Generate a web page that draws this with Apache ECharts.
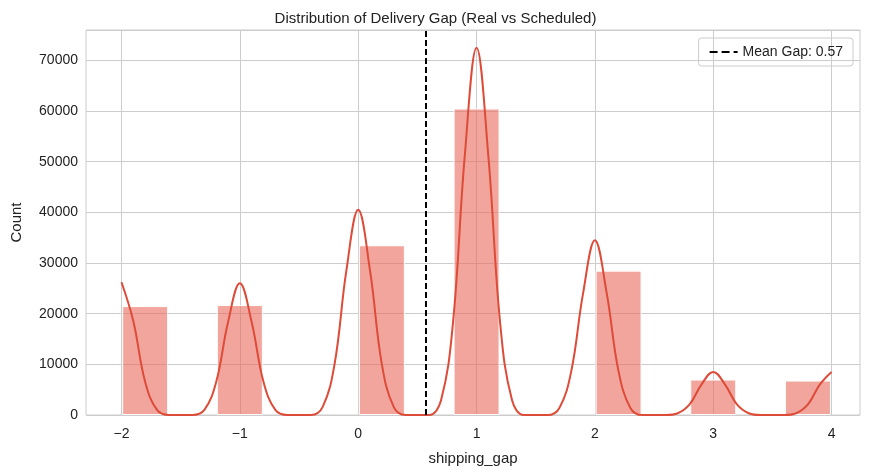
<!DOCTYPE html>
<html>
<head>
  <meta charset="utf-8">
  <script src="https://cdn.jsdelivr.net/npm/echarts@6/dist/echarts.min.js"></script>
  <style>
    html, body { margin: 0; padding: 0; background: #fff; }
    #chart { width: 871px; height: 473px; }
  </style>
</head>
<body>
  <div id="chart"></div>
  <script>
    // histogram bins (center, count), bin width 0.4
    const binCenters = [-1.8, -1.0, 0.2, 1.0, 2.2, 3.0, 3.8];
    const binCounts = [21500, 21700, 33500, 60500, 28500, 7000, 6800];
    // KDE curve
    const kdeX = [-2, -1.9, -1.8, -1.7, -1.6, -1.5, -1.4, -1.3, -1.2, -1.1, -1.0, -0.9, -0.8, -0.7, -0.6, -0.5, -0.4, -0.3, -0.2, -0.1,
      0, 0.1, 0.2, 0.3, 0.4, 0.5, 0.6, 0.7, 0.8, 0.9, 1.0, 1.1, 1.2, 1.3, 1.4, 1.5, 1.6, 1.7, 1.8, 1.9,
      2.0, 2.1, 2.2, 2.3, 2.4, 2.5, 2.6, 2.7, 2.8, 2.9, 3.0, 3.1, 3.2, 3.3, 3.4, 3.5, 3.6, 3.7, 3.8, 3.9, 4.0];
    const kdeY = [26200, 18500, 6500, 1000, 0, 0, 0, 1000, 6500, 18300, 26000, 18300, 6500, 1000, 0, 0, 0, 1600, 10000, 28500,
      40500, 28500, 10000, 1600, 0, 0, 0, 2900, 18000, 51000, 72500, 51000, 18000, 2900, 0, 0, 0, 1400, 8600, 24000,
      34500, 24000, 8600, 1400, 0, 0, 0, 350, 2100, 6000, 8500, 6000, 2100, 350, 0, 0, 0, 350, 2100, 6000, 8500];
    const meanGap = 0.57;
    const xTicks = [-2, -1, 0, 1, 2, 3, 4];

    const font = 'Liberation Sans';
    const chart = echarts.init(document.getElementById('chart'));
    chart.setOption({
      animation: false,
      textStyle: { fontFamily: font },
      title: {
        text: 'Distribution of Delivery Gap (Real vs Scheduled)',
        left: 'center', top: 6,
        textStyle: { fontSize: 15, fontWeight: 'normal', color: '#222', fontFamily: font }
      },
      legend: {
        right: 18, top: 38,
        data: ['Mean Gap: 0.57'],
        itemWidth: 28, itemHeight: 2,
        borderColor: '#ccc', borderWidth: 1, borderRadius: 3, padding: [7, 10],
        textStyle: { fontSize: 14, color: '#222', fontFamily: font }
      },
      grid: { left: 86, right: 11, top: 30, bottom: 58, show: true, borderColor: '#ccc', borderWidth: 1 },
      xAxis: {
        type: 'value', min: -2.3, max: 4.24,
        name: 'shipping_gap', nameLocation: 'middle', nameGap: 36,
        nameTextStyle: { fontSize: 15, color: '#222', fontFamily: font },
        axisLine: { show: false },
        axisTick: { show: false, customValues: xTicks },
        axisLabel: {
          customValues: xTicks, fontSize: 14, color: '#222', margin: 12, fontFamily: font,
          formatter: v => (v < 0 ? '\u2212' + Math.abs(v) : String(v))
        },
        splitLine: { show: true, lineStyle: { color: '#ccc' } }
      },
      yAxis: {
        type: 'value', min: 0, max: 76000, interval: 10000,
        name: 'Count', nameLocation: 'middle', nameGap: 62,
        nameTextStyle: { fontSize: 15, color: '#222', fontFamily: font },
        axisLine: { show: false }, axisTick: { show: false },
        axisLabel: { fontSize: 14, color: '#222', showMaxLabel: false, fontFamily: font, formatter: v => String(v) },
        splitLine: { lineStyle: { color: '#ccc' } }
      },
      series: [
        {
          type: 'bar', barWidth: 46,
          data: binCenters.map((c, i) => [c, binCounts[i]]),
          itemStyle: { color: 'rgba(231,105,90,0.6)', borderColor: '#fff', borderWidth: 1 },
          z: 2
        },
        {
          type: 'line', smooth: 0.4, showSymbol: false,
          data: kdeX.map((x, i) => [x, kdeY[i]]),
          lineStyle: { color: '#dd4b39', width: 2 },
          z: 3
        },
        {
          name: 'Mean Gap: 0.57', type: 'line', data: [],
          itemStyle: { color: '#000' },
          lineStyle: { color: '#000', type: 'dashed', width: 2 },
          symbol: 'none',
          markLine: {
            silent: true, symbol: 'none', label: { show: false },
            lineStyle: { color: '#000', type: [6, 3], width: 2 },
            data: [{ xAxis: meanGap }]
          },
          z: 4
        }
      ]
    });
  </script>
</body>
</html>
